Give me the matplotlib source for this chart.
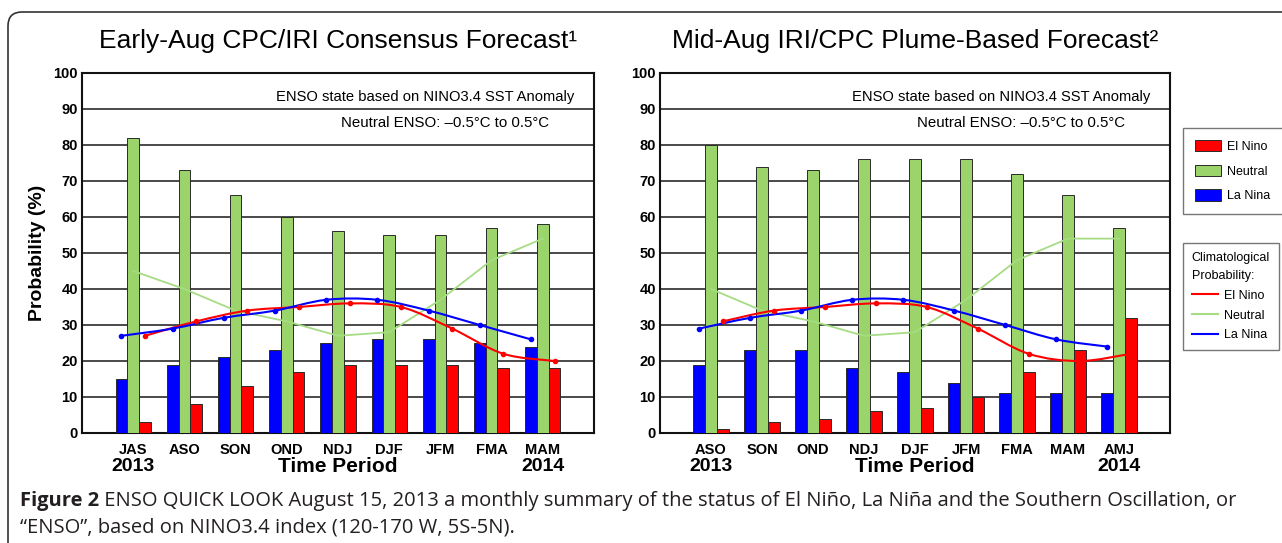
import numpy as np
import matplotlib.pyplot as plt
from matplotlib.patches import FancyBboxPatch, Patch, PathPatch
from matplotlib.lines import Line2D
from matplotlib.path import Path
from matplotlib.transforms import IdentityTransform

plt.rcParams['font.family'] = ['Liberation Sans', 'DejaVu Sans']

# ---- early-Aug CPC/IRI consensus forecast ----
early_periods = ["JAS", "ASO", "SON", "OND", "NDJ", "DJF", "JFM", "FMA", "MAM"]
early_lanina = [15, 19, 21, 23, 25, 26, 26, 25, 24]
early_neutral = [82, 73, 66, 60, 56, 55, 55, 57, 58]
early_elnino = [3, 8, 13, 17, 19, 19, 19, 18, 18]
early_clim_elnino = [27, 31, 34, 35, 36, 35, 29, 22, 20]
early_clim_neutral = [45, 40, 34, 31, 27, 28, 37, 48, 54]
early_clim_lanina = [27, 29, 32, 34, 37, 37, 34, 30, 26]

# ---- mid-Aug IRI/CPC plume-based forecast ----
mid_periods = ["ASO", "SON", "OND", "NDJ", "DJF", "JFM", "FMA", "MAM", "AMJ"]
mid_lanina = [19, 23, 23, 18, 17, 14, 11, 11, 11]
mid_neutral = [80, 74, 73, 76, 76, 76, 72, 66, 57]
mid_elnino = [1, 3, 4, 6, 7, 10, 17, 23, 32]
mid_clim_elnino = [31, 34, 35, 36, 35, 29, 22, 20, 22]
mid_clim_neutral = [40, 34, 31, 27, 28, 37, 48, 54, 54]
mid_clim_lanina = [29, 32, 34, 37, 37, 34, 30, 26, 24]

RED = "#ff0000"
GREEN = "#9ad46a"
BLUE = "#0000ff"
CLIM_GREEN = "#a6dc84"
EDGE = "#2a2a2a"
BAR_W = 0.23

W, H = 1282, 543


def smooth_path(x, y):
    """Cubic Bezier through the points (Catmull-Rom style tangents)."""
    pts = np.column_stack([x, y]).astype(float)
    n = len(pts)
    verts = [pts[0]]
    codes = [Path.MOVETO]
    for i in range(n - 1):
        p0 = pts[max(i - 1, 0)]
        p1, p2 = pts[i], pts[i + 1]
        p3 = pts[min(i + 2, n - 1)]
        verts += [p1 + (p2 - p0) / 6, p2 - (p3 - p1) / 6, p2]
        codes += [Path.CURVE4] * 3
    return Path(verts, codes)


def draw_panel(ax, periods, lanina, neutral, elnino, clim_el, clim_neu, clim_la,
               title, ylabel=None):
    x = np.arange(1, len(periods) + 1)
    ax.bar(x - BAR_W, lanina, BAR_W, color=BLUE, edgecolor=EDGE, lw=0.7, zorder=3)
    ax.bar(x, neutral, BAR_W, color=GREEN, edgecolor=EDGE, lw=0.7, zorder=3)
    ax.bar(x + BAR_W, elnino, BAR_W, color=RED, edgecolor=EDGE, lw=0.7, zorder=3)

    # climatological probabilities
    ax.plot(x, clim_neu, color=CLIM_GREEN, lw=1.3, zorder=4)
    for vals, off, col in ((clim_el, BAR_W, RED), (clim_la, -BAR_W, BLUE)):
        ax.add_patch(PathPatch(smooth_path(x + off, vals), fill=False,
                               edgecolor=col, lw=1.5, zorder=5))
        ax.plot(x + off, vals, "o", ms=3, color=col, zorder=6)

    ax.set_xlim(0, 10)
    ax.set_ylim(0, 100)
    ax.set_yticks(range(0, 101, 10))
    ax.set_xticks(x)
    ax.set_xticklabels(periods)
    ax.tick_params(axis="x", length=0, pad=7)
    ax.tick_params(axis="y", length=0, pad=3)
    for lab in ax.get_xticklabels() + ax.get_yticklabels():
        lab.set_fontweight("bold")
        lab.set_fontsize(10.5)
    ax.set_axisbelow(True)
    ax.grid(axis="y", color="#4a4a4a", lw=1.4)
    for sp in ax.spines.values():
        sp.set_linewidth(1.5)
        sp.set_color("#111111")

    ax.text(0.962, 0.933, "ENSO state based on NINO3.4 SST Anomaly",
            transform=ax.transAxes, ha="right", va="center", fontsize=10.6)
    ax.text(0.912, 0.861, "Neutral ENSO: \u20130.5\u00b0C to 0.5\u00b0C",
            transform=ax.transAxes, ha="right", va="center", fontsize=10.8)

    ax.text(0.5, 1.09, title, transform=ax.transAxes, ha="center", va="center",
            fontsize=19)

    ax.text(x[0], -0.094, "2013", transform=ax.get_xaxis_transform(),
            ha="center", va="center", fontsize=14, fontweight="bold")
    ax.text(x[-1], -0.094, "2014", transform=ax.get_xaxis_transform(),
            ha="center", va="center", fontsize=14, fontweight="bold")
    ax.text(0.5, -0.094, "Time Period", transform=ax.transAxes,
            ha="center", va="center", fontsize=15, fontweight="bold")
    if ylabel:
        ax.set_ylabel(ylabel, fontsize=14, fontweight="bold", labelpad=5)


fig = plt.figure(figsize=(W / 100, H / 100), dpi=100)
fig.patch.set_facecolor("white")

ax1 = fig.add_axes([82 / W, 110 / H, 512 / W, 360 / H])
ax2 = fig.add_axes([660 / W, 110 / H, 510 / W, 360 / H])

draw_panel(ax1, early_periods, early_lanina, early_neutral, early_elnino,
           early_clim_elnino, early_clim_neutral, early_clim_lanina,
           "Early-Aug CPC/IRI Consensus Forecast\u00b9", ylabel="Probability (%)")
draw_panel(ax2, mid_periods, mid_lanina, mid_neutral, mid_elnino,
           mid_clim_elnino, mid_clim_neutral, mid_clim_lanina,
           "Mid-Aug IRI/CPC Plume-Based Forecast\u00b2")

# legends to the right of the plume panel
bar_handles = [Patch(facecolor=c, edgecolor=EDGE, lw=0.7) for c in (RED, GREEN, BLUE)]
line_handles = [Line2D([], [], color=c, lw=1.5) for c in (RED, CLIM_GREEN, BLUE)]
names = ["El Nino", "Neutral", "La Nina"]

leg_kw = dict(fontsize=9, handlelength=2.1, handletextpad=0.5, borderaxespad=0,
              fancybox=False, framealpha=1, edgecolor="#777777")
leg1 = fig.legend(bar_handles, names, loc="upper left",
                  bbox_to_anchor=(1183 / W, 1 - 128 / H), handleheight=1.0,
                  labelspacing=0.95, borderpad=0.95, **leg_kw)
leg2 = fig.legend(line_handles, names, loc="upper left",
                  bbox_to_anchor=(1183 / W, 1 - 243 / H),
                  title="Climatological\nProbability:", title_fontsize=9,
                  alignment="left", labelspacing=0.62, borderpad=0.7, **leg_kw)
leg2.get_title().set_linespacing(1.7)
for leg in (leg1, leg2):
    leg.get_frame().set_linewidth(1.0)

# outer panel border with rounded top-left corner
fig.patches.append(FancyBboxPatch((8, -30), 1400, H - 12 + 30,
                                  boxstyle="round,pad=0,rounding_size=14",
                                  transform=IdentityTransform(), fill=False,
                                  edgecolor="#333333", lw=1.2, figure=fig))

# caption
cap_font = ["Open Sans", "DejaVu Sans"]
cap_kw = dict(fontsize=14.5, color="#231f20", family=cap_font, va="baseline")
head = fig.text(20 / W, 1 - 506 / H, "Figure 2", fontweight="bold", **cap_kw)
ax1.annotate(" ENSO QUICK LOOK August 15, 2013 a monthly summary of the status of "
             "El Ni\u00f1o, La Ni\u00f1a and the Southern Oscillation, or",
             xy=(1, 0), xycoords=head, va="bottom", ha="left",
             fontsize=14.5, color="#231f20", family=cap_font,
             annotation_clip=False)
fig.text(20 / W, 1 - 533 / H,
         "\u201cENSO\u201d, based on NINO3.4 index (120-170 W, 5S-5N).", **cap_kw)

fig.savefig("out.png", dpi=100)
